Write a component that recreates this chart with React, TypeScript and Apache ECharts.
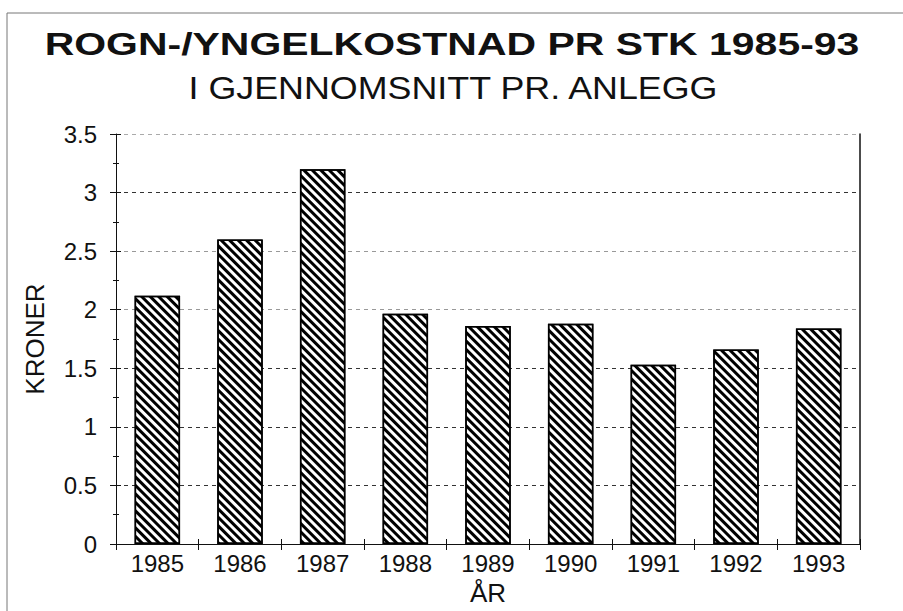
import React, { useEffect, useRef } from "react";
import * as echarts from "echarts";

const years = ["1985", "1986", "1987", "1988", "1989", "1990", "1991", "1992", "1993"];
const kroner = [2.12, 2.6, 3.2, 1.965, 1.86, 1.88, 1.53, 1.66, 1.84];
const titleText = "ROGN-/YNGELKOSTNAD PR STK 1985-93";
const subtitleText = "I GJENNOMSNITT PR. ANLEGG";
const yName = "KRONER";
const xName = "ÅR";

export default function App() {
  const ref = useRef<HTMLDivElement>(null);
  useEffect(() => {
    if (!ref.current) return;
    const chart = echarts.init(ref.current, null, { renderer: "svg" });
    const font = "'Liberation Sans', Arial, sans-serif";
    const ink = "#111";
    chart.setOption({
      animation: false,
      backgroundColor: "#fff",
      textStyle: { fontFamily: font },
      graphic: [
        {
          type: "rect",
          shape: { x: 7, y: 13, width: 940, height: 640 },
          style: { fill: "none", stroke: "#777", lineWidth: 1 },
          silent: true,
        },
        {
          type: "text",
          x: 452,
          y: 44,
          scaleX: 1.28,
          style: {
            text: titleText,
            fontSize: 32,
            fontWeight: "bold",
            fontFamily: font,
            fill: ink,
            align: "center",
            verticalAlign: "middle",
            textAlign: "center",
            textVerticalAlign: "middle",
          },
        },
        {
          type: "text",
          x: 453,
          y: 88,
          scaleX: 1.12,
          style: {
            text: subtitleText,
            fontSize: 32,
            fontWeight: "normal",
            fontFamily: font,
            fill: ink,
            align: "center",
            verticalAlign: "middle",
            textAlign: "center",
            textVerticalAlign: "middle",
          },
        },
      ],
      grid: { left: 116, right: 43, top: 134, bottom: 67 },
      xAxis: [
        {
          type: "category",
          data: years,
          boundaryGap: true,
          axisLine: { show: true, lineStyle: { color: ink, width: 1 } },
          axisTick: { show: true, length: 6, lineStyle: { color: ink } },
          axisLabel: { fontSize: 24, color: ink, margin: 7, fontFamily: font },
          name: xName,
          nameLocation: "middle",
          nameGap: 34,
          nameTextStyle: { fontSize: 26, color: ink, fontFamily: font },
        },
        {
          type: "category",
          data: years,
          position: "bottom",
          boundaryGap: true,
          axisLine: { show: false },
          axisTick: { show: true, inside: true, length: 5, lineStyle: { color: ink } },
          axisLabel: { show: false },
          splitLine: { show: false },
        },
      ],
      yAxis: [
        {
          type: "value",
          min: 0,
          max: 3.5,
          interval: 0.5,
          axisLine: { show: true, lineStyle: { color: ink, width: 1 } },
          axisTick: { show: true, length: 6, lineStyle: { color: ink } },
          minorTick: { show: true, splitNumber: 2, length: 3, lineStyle: { color: ink } },
          axisLabel: { fontSize: 24, color: ink, margin: 19, fontFamily: font },
          splitLine: {
            show: true,
            lineStyle: {
              color: ["#333", "#333", "#333", "#333", "#999", "#999", "#333", "#aaa"],
              type: [4, 4],
              width: 1,
            },
          },
          name: yName,
          nameLocation: "middle",
          nameGap: 68,
          nameTextStyle: { fontSize: 26, color: ink, fontFamily: font },
        },
        {
          type: "value",
          position: "right",
          min: 0,
          max: 3.5,
          interval: 0.5,
          axisLine: { show: true, lineStyle: { color: ink, width: 1.5 } },
          axisTick: { show: false },
          axisLabel: { show: false },
          splitLine: { show: false },
        },
        {
          type: "value",
          position: "left",
          min: 0,
          max: 3.5,
          interval: 0.5,
          axisLine: { show: false },
          axisTick: { show: true, inside: true, length: 5, lineStyle: { color: ink } },
          minorTick: { show: true, splitNumber: 2, length: 3, lineStyle: { color: ink } },
          axisLabel: { show: false },
          splitLine: { show: false },
        },
      ],
      series: [
        {
          type: "bar",
          data: kroner,
          barWidth: "55%",
          itemStyle: {
            color: "#fff",
            borderColor: "#000",
            borderWidth: 1.5,
            decal: {
              symbol: "rect",
              color: "#000",
              dashArrayX: [1, 0],
              dashArrayY: [2.5, 2.1],
              rotation: Math.PI / 4,
            },
          },
        },
      ],
    });
    return () => chart.dispose();
  }, []);
  return (
    <div
      ref={ref}
      style={{ position: "fixed", left: 0, top: 0, width: 903, height: 611 }}
    />
  );
}
